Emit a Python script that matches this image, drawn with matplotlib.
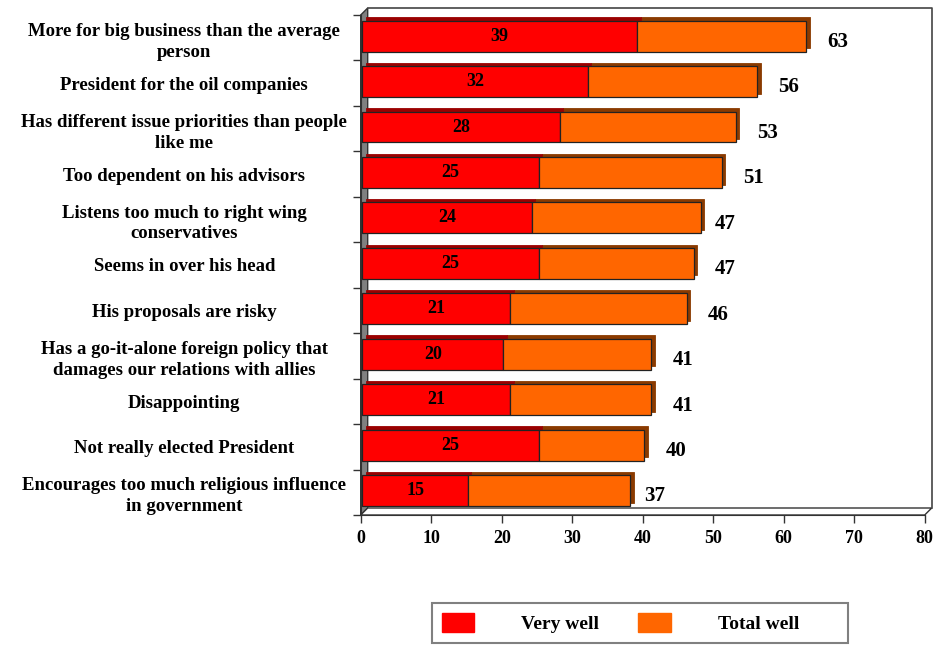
import matplotlib
matplotlib.use("Agg")
import matplotlib.pyplot as plt
import matplotlib.transforms as mtransforms
from matplotlib.patches import Polygon, Patch
from matplotlib.lines import Line2D

plt.rcParams["font.family"] = ["Liberation Serif", "DejaVu Serif"]
plt.rcParams["font.weight"] = "bold"

categories = [
    "More for big business than the average\nperson",
    "President for the oil companies",
    "Has different issue priorities than people\nlike me",
    "Too dependent on his advisors",
    "Listens too much to right wing\nconservatives",
    "Seems in over his head",
    "His proposals are risky",
    "Has a go-it-alone foreign policy that\ndamages our relations with allies",
    "Disappointing",
    "Not really elected President",
    "Encourages too much religious influence\nin government",
]
very_well = [39, 32, 28, 25, 24, 25, 21, 20, 21, 25, 15]
# orange segment as drawn (stacked on top of "very well")
somewhat_well = [24, 24, 25, 26, 24, 22, 25, 21, 20, 15, 23]
total_well = [63, 56, 53, 51, 47, 47, 46, 41, 41, 40, 37]
series_names = ["Very well", "Total well"]
x_ticks = [0, 10, 20, 30, 40, 50, 60, 70, 80]

RED, RED_DARK = "#FF0000", "#9A0000"
ORANGE, ORANGE_DARK = "#FF6600", "#8A3A00"
EDGE = "#222222"

W, H = 936, 645
fig = plt.figure(figsize=(W / 100, H / 100), dpi=100)
fig.patch.set_facecolor("white")

# front plane of the pseudo-3D plot box, in pixels (top-left origin)
x0, x1, ytop, ybot = 360.7, 924.7, 15, 515
ax = fig.add_axes([x0 / W, 1 - ybot / H, (x1 - x0) / W, (ybot - ytop) / H])
ax.set_facecolor("none")

n = len(categories)
pos = list(range(n))
ax.set_xlim(0, 80)
ax.set_ylim(n - 0.5, -0.5)

# --- 3D box decorations (display pixels), drawn beneath the axes ---
d = 7
X0, X1, YB, YT = x0, x1, H - ybot, H - ytop
ident = mtransforms.IdentityTransform()
wall = Polygon([(X0, YB), (X0, YT), (X0 + d, YT + d), (X0 + d, YB + d)], closed=True,
               facecolor="#808080", edgecolor="#333333", lw=1.0, transform=ident, zorder=-2)
floor = Polygon([(X0, YB), (X1, YB), (X1 + d, YB + d), (X0 + d, YB + d)], closed=True,
                facecolor="white", edgecolor="#333333", lw=1.0, transform=ident, zorder=-2)
fig.add_artist(wall)
fig.add_artist(floor)
fig.add_artist(Line2D([X0 + d, X1 + d, X1 + d], [YT + d, YT + d, YB + d],
                      color="#444444", lw=1.2, transform=ident, zorder=-2))

# --- bars with a small extruded side ---
front = ax.transData + mtransforms.Affine2D().translate(1.6, 1.6)
back = ax.transData + mtransforms.Affine2D().translate(5.0, 5.0)
bh = 0.68
ax.barh(pos, somewhat_well, left=very_well, height=bh, color=ORANGE_DARK,
        edgecolor=ORANGE_DARK, lw=0.6, transform=back, zorder=2)
ax.barh(pos, very_well, height=bh, color=RED_DARK, edgecolor=RED_DARK,
        lw=0.6, transform=back, zorder=2)
ax.barh(pos, very_well, height=bh, color=RED, edgecolor=EDGE, lw=0.9,
        transform=front, zorder=3, label=series_names[0])
ax.barh(pos, somewhat_well, left=very_well, height=bh, color=ORANGE, edgecolor=EDGE,
        lw=0.9, transform=front, zorder=3, label=series_names[1])

for i in pos:
    ax.text(very_well[i] / 2, i, str(very_well[i]), ha="center", va="center",
            fontsize=13, fontweight="bold", transform=front, zorder=4)
    ax.annotate(str(total_well[i]), xy=(total_well[i], i), xytext=(24, -3),
                textcoords="offset points", ha="center", va="center",
                fontsize=15, fontweight="bold", zorder=4)

# --- axes / ticks ---
for s in ["top", "right"]:
    ax.spines[s].set_visible(False)
ax.spines["left"].set_color("#333333")
ax.spines["bottom"].set_color("#333333")

ax.set_xticks(x_ticks)
ax.set_xticklabels([str(t) for t in x_ticks], fontsize=13, fontweight="bold")
ax.tick_params(axis="x", length=6, width=1, color="#333333", pad=5)

ax.set_yticks([p - 0.5 for p in pos] + [n - 0.5])
ax.set_yticklabels([])
ax.tick_params(axis="y", which="major", length=6, width=1, color="#333333")
ax.set_yticks(pos, minor=True)
ax.set_yticklabels(categories, minor=True, fontsize=13.5, fontweight="bold")
ax.tick_params(axis="y", which="minor", length=0, pad=127)
for lbl in ax.get_yticklabels(minor=True):
    lbl.set_horizontalalignment("center")
    lbl.set_multialignment("center")
    lbl.set_linespacing(1.3)

# --- legend ---
handles = [Patch(facecolor=RED, edgecolor=RED), Patch(facecolor=ORANGE, edgecolor=ORANGE)]
leg = fig.legend(handles, [s + " " * 8 for s in series_names], ncol=2,
                 loc="upper left", bbox_to_anchor=(432 / W, 1 - 603 / H),
                 borderaxespad=0, frameon=True, fancybox=False, framealpha=1,
                 prop={"size": 14, "weight": "bold"}, handlelength=1.65,
                 handleheight=1.13, handletextpad=2.45, columnspacing=0.0,
                 borderpad=0.5)
leg.get_frame().set_edgecolor("#808080")
leg.get_frame().set_linewidth(1.5)

fig.savefig("out.png", dpi=100, facecolor="white")
